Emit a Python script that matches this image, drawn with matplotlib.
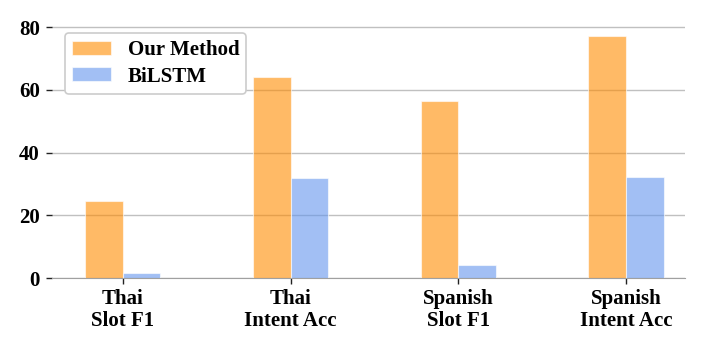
import numpy as np
import matplotlib
matplotlib.use("Agg")
import matplotlib.pyplot as plt

# データ
categories = ["Thai\nSlot F1", "Thai\nIntent Acc", "Spanish\nSlot F1", "Spanish\nIntent Acc"]
our_method = [24.5, 64.0, 56.6, 77.2]
bilstm = [1.6, 31.8, 4.1, 32.1]
series_names = ["Our Method", "BiLSTM"]

plt.rcParams["font.family"] = ["Liberation Serif", "DejaVu Serif"]
plt.rcParams["font.weight"] = "bold"

fig = plt.figure(figsize=(7.06, 3.53), dpi=100)
ax = fig.add_axes([0.074, 0.212, 0.896, 0.738])

x = np.arange(len(categories))
w = 0.225
ax.bar(x - w / 2, our_method, w, color="darkorange", alpha=0.6,
       edgecolor="white", linewidth=0.8, label=series_names[0], zorder=3)
ax.bar(x + w / 2, bilstm, w, color="cornflowerblue", alpha=0.6,
       edgecolor="white", linewidth=0.8, label=series_names[1], zorder=3)

ax.set_xlim(-0.42, 3.35)
ax.set_ylim(0, 83)
ax.set_yticks([0, 20, 40, 60, 80])
ax.set_xticks(x)
ax.set_xticklabels(categories, fontsize=15, fontweight="bold", linespacing=1.1)
for lab in ax.get_yticklabels():
    lab.set_fontsize(15)
    lab.set_fontweight("bold")

ax.yaxis.grid(True, color="#c0c0c0", linewidth=1.0, zorder=0)
ax.set_axisbelow(True)
for s in ["top", "right", "left"]:
    ax.spines[s].set_visible(False)
ax.spines["bottom"].set_color("#a0a0a0")
ax.tick_params(axis="y", length=4, width=1, color="#222222", pad=5)
ax.tick_params(axis="x", length=4, width=1, color="#222222", pad=4)

leg = ax.legend(loc="upper left", bbox_to_anchor=(65 / 706, 1 - 33 / 353),
                bbox_transform=fig.transFigure, borderaxespad=0,
                prop={"size": 15, "weight": "bold"}, fancybox=True,
                framealpha=1.0, edgecolor="#cccccc", handlelength=1.85,
                handleheight=0.65, handletextpad=0.8, borderpad=0.35,
                labelspacing=0.3)
leg.get_frame().set_linewidth(1.2)

fig.savefig("out.png", dpi=100)
